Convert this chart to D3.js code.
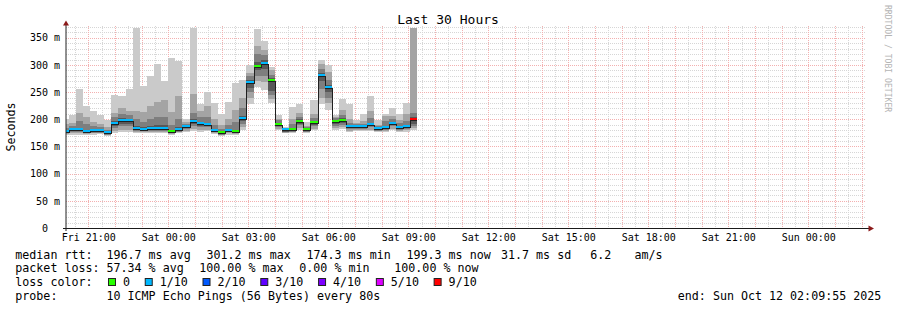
<!DOCTYPE html>
<html>
<head>
<meta charset="utf-8">
<script src="https://cdn.jsdelivr.net/npm/d3@7"></script>
<style>
  body { margin: 0; background: #fff; }
  svg { display: block; }
  svg text { font-family: "DejaVu Sans Mono", monospace; white-space: pre; }
</style>
</head>
<body>
<div id="chart"></div>
<script>
const canvas_w = 897;
const canvas_h = 310;

// time window of the graph (30 hours) and the 16 minute consolidation bins
const graphStart = Date.UTC(2025, 9, 10, 20, 9, 55);
const graphEnd   = Date.UTC(2025, 9, 12, 2, 9, 55);
const firstBin   = Date.UTC(2025, 9, 10, 20, 0, 0);
const binMs      = 16 * 60 * 1000;

// median rtt per bin (ms)
const median = [177, 181, 180, 177, 178, 178, 174.3, 191.5, 197, 197,
                183, 181, 182, 182.5, 182.5, 176.5, 180, 185.5, 195, 191,
                190, 179, 174.5, 178.5, 176, 200, 266.7, 297, 301.2, 270.4,
                190, 179.4, 180, 195, 179.8, 192.5, 279.5, 257, 194.5, 197.5,
                185.8, 185.8, 185.8, 189, 182.6, 184, 191, 184.5, 185.8, 199.3];

// lost pings out of 10 per bin
const loss = [1, 1, 1, 1, 1, 1, 1, 1, 1, 1,
              1, 1, 1, 1, 1, 0, 1, 1, 1, 1,
              1, 1, 0, 1, 0, 1, 1, 0, 1, 0,
              0, 1, 0, 0, 0, 0, 1, 1, 0, 0,
              1, 1, 1, 1, 1, 1, 1, 1, 1, 9];

// sorted ping rtts per bin (smoke), p01 = fastest ... p10 = slowest
const p01 = [171, 172, 172, 172, 172, 173, 169, 174, 176, 177, 175, 174, 175, 175, 175, 172, 174, 176, 178, 177,
             178, 173, 169, 172, 171, 181, 228, 260, 253, 230, 180, 174, 174, 181, 174, 180, 229, 218, 181, 182,
             177, 178, 178, 178, 176, 177, 180, 177, 177, 180];
const p02 = [173, 175, 174, 173, 174, 174, 171, 178, 180, 181, 177, 176, 177, 177, 177, 173, 176, 179, 182, 180,
             181, 175, 171, 174, 173, 185, 240, 270, 268, 238, 183, 175, 176, 184, 176, 183, 240, 230, 184, 185,
             179, 180, 180, 181, 178, 179, 183, 179, 180, 184];
const p03 = [174, 177, 176, 174, 175, 175, 172, 184, 187, 187, 179, 178, 179, 179, 179, 174, 177, 182, 188, 185,
             185, 176, 172, 176, 174, 192, 250, 280, 280, 245, 186, 176, 177, 189, 177, 187, 255, 240, 188, 190,
             182, 182, 182, 185, 179, 181, 187, 181, 182, 188];
const p04 = [175, 179, 178, 175, 176, 176, 173, 188, 192, 192, 181, 180, 180, 181, 181, 175, 178, 184, 192, 188,
             188, 177, 173, 177, 175, 197, 258, 290, 292, 252, 188, 177, 178, 192, 178, 190, 270, 250, 192, 194,
             184, 184, 184, 187, 181, 182, 189, 183, 184, 192];
const p05 = [176, 180, 179, 176, 177, 177, 174, 190, 195, 195, 182, 180, 181, 182, 182, 176, 179, 185, 194, 190,
             189, 178, 174, 178, 176, 199, 265, 296, 300, 268, 189, 178, 179, 194, 179, 192, 278, 255, 193, 196,
             185, 185, 185, 188, 182, 183, 190, 184, 185, 197];
const p06 = [178, 182, 181, 178, 179, 179, 176, 193, 198, 198, 184, 182, 183, 184, 184, 178, 181, 187, 196, 192,
             191, 180, 176, 180, 178, 201, 268, 299, 303, 272, 191, 180, 181, 196, 181, 194, 281, 259, 196, 199,
             187, 187, 187, 190, 184, 185, 192, 186, 187, 201];
const p07 = [180, 184, 184, 181, 181, 180, 178, 196, 202, 201, 187, 185, 187, 189, 189, 180, 185, 189, 200, 195,
             194, 183, 178, 182, 180, 206, 272, 305, 310, 276, 194, 182, 184, 200, 183, 197, 285, 263, 198, 202,
             189, 189, 189, 193, 186, 187, 195, 188, 189, 205];
const p08 = [184, 188, 196, 192, 188, 185, 181, 204, 210, 208, 200, 195, 200, 205, 205, 190, 200, 192, 212, 204,
             205, 190, 183, 189, 195, 220, 280, 320, 318, 282, 198, 183, 192, 205, 185, 203, 292, 272, 202, 208,
             194, 191, 192, 203, 188, 196, 200, 193, 196, 212];
const p09 = [192, 193, 212, 205, 195, 192, 186, 212, 220, 216, 215, 214, 225, 232, 236, 214, 243, 195, 246, 216,
             225, 200, 190, 200, 218, 240, 286, 335, 328, 290, 201, 184, 200, 212, 188, 210, 302, 287, 204, 218,
             200, 193, 197, 215, 190, 206, 206, 198, 210, 368];
const p10 = [201, 208, 256, 225, 215, 207, 199, 245, 243, 256, 368, 262, 280, 302, 271, 313, 307, 200, 368, 228,
             250, 230, 210, 232, 266, 272, 299, 367, 344, 297, 207, 186, 222, 229, 195, 235, 310, 299, 208, 237,
             229, 198, 209, 243, 198, 209, 220, 210, 230, 368];

// loss colour legend
const lossLevels = [0, 1, 2, 3, 4, 5, 9];
const lossLabels = ['0', '1/10', '2/10', '3/10', '4/10', '5/10', '9/10'];
const lossColors = ['#26ff00', '#00b8ff', '#0059ff', '#5e00ff', '#7e00ff', '#dd00ff', '#ff0000'];

const yTickValues = [0, 50, 100, 150, 200, 250, 300, 350];

const rttLegend  = ['median rtt:', '196.7 ms avg', '301.2 ms max', '174.3 ms min', '199.3 ms now', '31.7 ms sd', '6.2', 'am/s'];
const lossLegend = ['packet loss:', '57.34 % avg', '100.00 % max', '0.00 % min', '100.00 % now'];
const probeText  = '10 ICMP Echo Pings (56 Bytes) every 80s';
const endText    = 'end: Sun Oct 12 02:09:55 2025';

// layout
const rttLegendX  = [15.3, 106.5, 206.5, 306.5, 406.5, 501, 590.3, 634.5];
const lossLegendX = [15.3, 106.5, 199.3, 299.3, 394.3];
const smokeGrays  = ['#cacaca', '#a4a4a4', '#7e7e7e', '#585858', '#323232'];
const pingRows    = [p01, p02, p03, p04, p05, p06, p07, p08, p09, p10];

let x = d3.scaleUtc()
          .domain( [ graphStart, graphEnd ] )
          .range( [ 66, 866 ] );

let y = d3.scaleLinear()
          .domain( [ 0, 370 ] )
          .range( [ 228, 26.9 ] );

let svg = d3.select( '#chart' )
            .append( 'svg' )
            .attr( 'width', canvas_w )
            .attr( 'height', canvas_h );

svg.append( 'defs' ).append( 'clipPath' ).attr( 'id', 'plotclip' )
   .append( 'rect' ).attr( 'x', 66 ).attr( 'y', 27 ).attr( 'width', 800 ).attr( 'height', 201 );

// grid, under the data
const grid = svg.append( 'g' ).attr( 'stroke-dasharray', '1,1' ).attr( 'stroke-width', 1 );
const hLines = d3.range( 10, 371, 10 );
const vLines = d3.utcMinute.every( 30 ).range( graphStart, graphEnd );
[ false, true ].forEach( major => {
    const col = major ? '#f3b0b0' : '#d6d6d6';
    hLines.filter( v => ( v % 50 === 0 ) === major ).forEach( v => {
        const py = Math.round( y( v ) ) + 0.5;
        grid.append( 'line' ).attr( 'x1', 66 ).attr( 'x2', 866 )
            .attr( 'y1', py ).attr( 'y2', py ).attr( 'stroke', col );
    });
    vLines.filter( t => ( t.getUTCMinutes() === 0 ) === major ).forEach( t => {
        const px = Math.round( x( t ) ) + 0.5;
        grid.append( 'line' ).attr( 'x1', px ).attr( 'x2', px )
            .attr( 'y1', 26 ).attr( 'y2', 228 ).attr( 'stroke', col );
    });
});

// bins
const bins = median.map( ( m, i ) => ( { i: i, t0: firstBin + i * binMs, t1: firstBin + ( i + 1 ) * binMs } ) );
const bx0 = d => Math.round( x( d.t0 ) );
const bx1 = d => Math.round( x( d.t1 ) );

const plot = svg.append( 'g' ).attr( 'clip-path', 'url(#plotclip)' );

// smoke: band k spans ping k .. ping 11-k
smokeGrays.forEach( ( col, k ) => {
    plot.append( 'g' )
        .selectAll( 'rect' )
        .data( bins )
        .enter()
        .append( 'rect' )
        .attr( 'x', bx0 )
        .attr( 'width', d => bx1( d ) - bx0( d ) )
        .attr( 'y', d => Math.round( y( pingRows[ 9 - k ][ d.i ] ) ) )
        .attr( 'height', d => Math.max( 0, Math.round( y( pingRows[ k ][ d.i ] ) ) - Math.round( y( pingRows[ 9 - k ][ d.i ] ) ) ) )
        .attr( 'fill', col )
        .attr( 'shape-rendering', 'crispEdges' );
});

// median line
const pts = [];
bins.forEach( d => {
    const py = Math.round( y( median[ d.i ] ) ) + 0.5;
    pts.push( [ bx0( d ), py ] );
    pts.push( [ bx1( d ), py ] );
});
plot.append( 'path' )
    .attr( 'd', d3.line()( pts ) )
    .attr( 'fill', 'none' )
    .attr( 'stroke', '#202020' )
    .attr( 'stroke-width', 1 )
    .attr( 'shape-rendering', 'crispEdges' );

function lossColor( l ) {
    for ( let j = 0; j < lossLevels.length; j++ ) {
        if ( l <= lossLevels[ j ] ) return lossColors[ j ];
    }
    return lossColors[ lossColors.length - 1 ];
}

plot.append( 'g' )
    .selectAll( 'rect' )
    .data( bins )
    .enter()
    .append( 'rect' )
    .attr( 'x', bx0 )
    .attr( 'width', d => bx1( d ) - bx0( d ) )
    .attr( 'y', d => Math.round( y( median[ d.i ] ) ) - 2 )
    .attr( 'height', 2 )
    .attr( 'fill', d => lossColor( loss[ d.i ] ) )
    .attr( 'shape-rendering', 'crispEdges' );

// axes labels
const yAxis = d3.axisLeft( y )
                .tickValues( yTickValues )
                .tickSize( 0 )
                .tickPadding( 6 )
                .tickFormat( v => v === 0 ? '0' : v + ' m' );
const gy = svg.append( 'g' ).attr( 'transform', 'translate(66,0)' ).call( yAxis );
gy.select( '.domain' ).remove();
gy.attr( 'font-family', '"DejaVu Sans Mono", monospace' ).attr( 'font-size', 10 );
gy.selectAll( 'text' ).attr( 'fill', '#000' );
gy.selectAll( '.tick' ).filter( v => v === 0 ).select( 'text' ).attr( 'x', -18 );

const xAxis = d3.axisBottom( x )
                .tickValues( d3.utcHour.every( 3 ).range( graphStart, graphEnd ) )
                .tickSize( 0 )
                .tickPadding( 6 )
                .tickFormat( d3.utcFormat( '%a %H:%M' ) );
const gx = svg.append( 'g' ).attr( 'transform', 'translate(0,228)' ).call( xAxis );
gx.select( '.domain' ).remove();
gx.attr( 'font-family', '"DejaVu Sans Mono", monospace' ).attr( 'font-size', 10 );
gx.selectAll( 'text' ).attr( 'fill', '#000' );

// axis lines and arrows
svg.append( 'line' ).attr( 'x1', 63 ).attr( 'x2', 869 ).attr( 'y1', 228.5 ).attr( 'y2', 228.5 )
   .attr( 'stroke', '#1a1a1a' );
svg.append( 'line' ).attr( 'x1', 66 ).attr( 'x2', 66 ).attr( 'y1', 231 ).attr( 'y2', 24 )
   .attr( 'stroke', '#222' );
svg.append( 'path' ).attr( 'd', 'M63,25.5 L69,25.5 L66,20.5 Z' ).attr( 'fill', '#8c1a1a' );
svg.append( 'path' ).attr( 'd', 'M868.5,225.5 L868.5,231.5 L874,228.5 Z' ).attr( 'fill', '#8c1a1a' );

// title, unit, watermark
svg.append( 'text' ).attr( 'x', 448 ).attr( 'y', 24 ).attr( 'text-anchor', 'middle' )
   .attr( 'font-size', 13 ).text( 'Last 30 Hours' );
svg.append( 'text' ).attr( 'transform', 'translate(15,127) rotate(-90)' ).attr( 'text-anchor', 'middle' )
   .attr( 'font-size', 11.66 ).text( 'Seconds' );
svg.append( 'text' ).attr( 'transform', 'translate(884.5,5) rotate(90)' )
   .attr( 'font-size', 8.1 ).attr( 'fill', '#b4b4b4' ).text( 'RRDTOOL / TOBI OETIKER' );

// legend
const legend = svg.append( 'g' ).attr( 'font-size', 11.66 ).attr( 'fill', '#000' );
rttLegend.forEach( ( s, i ) => legend.append( 'text' ).attr( 'x', rttLegendX[ i ] ).attr( 'y', 258.5 ).text( s ) );
lossLegend.forEach( ( s, i ) => legend.append( 'text' ).attr( 'x', lossLegendX[ i ] ).attr( 'y', 272 ).text( s ) );
legend.append( 'text' ).attr( 'x', 15.3 ).attr( 'y', 286 ).text( 'loss color:' );

let sx = 108;
lossLabels.forEach( ( lab, i ) => {
    legend.append( 'rect' ).attr( 'x', sx + 0.5 ).attr( 'y', 278.5 ).attr( 'width', 7 ).attr( 'height', 7 )
          .attr( 'fill', lossColors[ i ] ).attr( 'stroke', '#222' ).attr( 'stroke-width', 1 );
    const t = legend.append( 'text' ).attr( 'x', sx + 15 ).attr( 'y', 286 ).text( lab );
    sx = sx + 15 + t.node().getComputedTextLength() + 14.7;
});

legend.append( 'text' ).attr( 'x', 15.3 ).attr( 'y', 300 ).text( 'probe:' );
legend.append( 'text' ).attr( 'x', 106.5 ).attr( 'y', 300 ).text( probeText );
legend.append( 'text' ).attr( 'x', 677.8 ).attr( 'y', 300 ).text( endText );
</script>
</body>
</html>
